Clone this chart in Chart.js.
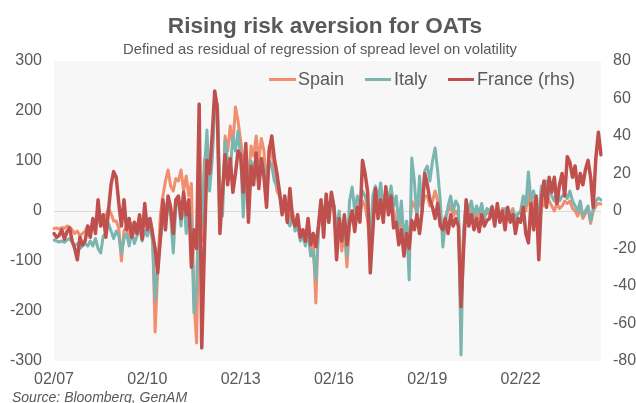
<!DOCTYPE html>
<html><head><meta charset="utf-8">
<script src="https://cdn.jsdelivr.net/npm/chart.js@4/dist/chart.umd.min.js"></script>
<style>
html,body{margin:0;padding:0;background:#fff;}
#wrap{position:relative;width:636px;height:403px;overflow:hidden;font-family:"Liberation Sans",Arial,sans-serif;color:#595959;}
canvas{position:absolute;left:0;top:0;}
.t{position:absolute;white-space:nowrap;line-height:1;}
.lg{position:absolute;height:3px;top:78px;}
</style></head><body>
<div id="wrap">
<canvas id="c" width="636" height="403"></canvas>
<div class="t" style="left:25px;width:600px;text-align:center;top:15px;font-size:22.6px;font-weight:bold;">Rising risk aversion for OATs</div>
<div class="t" style="left:20px;width:600px;text-align:center;top:42px;font-size:14.8px;">Defined as residual of regression of spread level on volatility</div>
<div class="lg" style="left:269px;width:27px;background:#F28E6E;"></div>
<div class="t" style="left:298px;top:70px;font-size:18px;">Spain</div>
<div class="lg" style="left:365px;width:26px;background:#7AB5B0;"></div>
<div class="t" style="left:394px;top:70px;font-size:18px;">Italy</div>
<div class="lg" style="left:448px;width:26px;background:#C0504D;"></div>
<div class="t" style="left:477px;top:70px;font-size:18px;">France (rhs)</div>
<div class="t" style="left:12px;top:390px;font-size:14px;font-style:italic;">Source: Bloomberg, GenAM</div>
</div>
<script>
// Monthly observations, Feb 2007 .. Sep 2024
const startYear = 2007, startMonth = 2;
const tickLabels = ['02/07','02/10','02/13','02/16','02/19','02/22'];

const spain = [
-35,-34,-36,-33,-35,-30,-32,-38,-45,-40,-50,-45,
-40,-30,-35,-25,-30,-20,-15,-25,-10,5,-5,-20,
-20,-35,-100,-40,-30,-50,-25,-45,-30,-15,-40,-20,
-30,-15,-40,-242,-120,-10,30,60,82,50,40,65,
60,82,40,70,30,55,-180,-264,20,-60,100,120,
60,120,230,200,-30,20,150,120,170,130,208,180,
140,100,120,60,130,110,150,100,145,120,40,130,
120,80,40,30,10,20,-20,-10,0,-30,-20,-50,
-40,-60,-30,-80,-60,-184,-30,10,-20,20,-10,30,
0,-60,-20,-80,-40,-112,-30,0,-20,10,-10,20,
10,-20,-80,-10,20,10,30,0,20,10,30,0,
-20,-40,-10,-50,-30,-60,20,10,0,20,10,30,
30,10,20,40,20,-20,-30,-10,0,10,-10,0,
-10,-170,-40,10,-10,0,-20,-5,-15,0,-10,-5,
-5,5,-10,0,-15,5,0,-10,-5,5,-15,-5,
-5,10,0,40,-10,20,0,-20,30,10,40,20,
10,0,15,5,10,20,15,20,5,0,-10,5,
-15,-5,5,-25,0,10,15,14
];

const italy = [
-58,-60,-62,-60,-63,-58,-55,-62,-70,-65,-75,-70,
-65,-70,-60,-70,-55,-75,-84,-50,-45,-25,-40,-55,
-40,-50,-85,-55,-45,-70,-40,-65,-50,-35,-60,-40,
-50,-30,-60,-178,-110,-60,-20,10,20,-10,-84,10,
20,-30,30,-45,10,-20,-204,-150,40,-30,80,162,
40,100,200,214,40,-10,140,100,80,150,120,160,
110,-12,90,50,100,80,110,70,100,90,20,100,
90,60,50,40,0,30,-20,-30,-10,-40,-30,-60,
-50,-70,-40,-90,-80,-138,-40,20,-10,25,-20,35,
10,-40,0,-60,-20,-90,20,48,0,30,10,40,
30,10,-60,30,50,20,56,10,40,20,50,10,
30,-30,20,-60,-20,-138,106,60,-20,70,0,80,
90,60,100,126,80,20,-72,-20,10,30,0,20,
10,-288,-40,20,0,20,-10,10,-5,15,-15,5,
0,10,-10,5,-15,0,5,-5,-10,0,-18,-5,
0,30,10,78,20,40,10,-10,50,30,60,40,
30,20,40,20,30,35,25,40,20,10,0,20,
-10,0,10,-20,5,20,26,22
];

const franceRhs = [
-12,-14,-13,-10,-15,-11,-9,-16,-20,-26,-14,-18,
-16,-8,-14,-4,-12,6,-8,-2,-14,0,14,21,
18,4,-8,6,-10,-4,-14,-6,-12,-2,-15,4,
-10,-4,-12,-20,-33,-15,6,-10,8,2,-12,6,
8,-4,10,-2,6,-30,-10,-20,57,-73,-20,27,
20,40,64,55,-12,10,30,14,28,10,20,32,
30,10,36,-6,24,14,31,12,28,18,2,32,
40,28,20,10,-2,8,-6,12,-4,-8,-2,-14,
-10,-16,-4,-18,-12,-19,-8,6,-14,9,-6,10,
2,-26,-4,-16,-2,-18,-6,0,-11,2,-6,27,
20,10,-33,-10,12,-4,6,-6,13,-2,8,-9,
-6,-18,-10,-24,-12,-20,-5,-10,-2,-12,0,20,
14,6,2,-4,4,-8,-10,-4,-12,-2,-8,-4,
-8,-51,-20,6,-8,-2,-10,-4,-11,-2,-8,-5,
-4,2,-8,4,-6,0,-10,2,-6,-2,-12,-4,
-6,2,-12,-17,4,-10,8,-26,6,16,2,18,
10,18,4,14,20,8,29,26,18,24,12,20,
14,22,27,18,2,28,42,30
];

const months = [];
for (let i = 0; i < spain.length; i++) {
  const m0 = (startMonth - 1) + i;
  const mm = (m0 % 12) + 1;
  const yy = (startYear + Math.floor(m0 / 12)) % 100;
  months.push(String(mm).padStart(2,'0') + '/' + String(yy).padStart(2,'0'));
}

const bgPlugin = {
  id: 'plotBg',
  beforeDraw(chart) {
    const {ctx, chartArea: a} = chart;
    ctx.save();
    ctx.fillStyle = '#f7f7f7';
    ctx.fillRect(a.left, a.top, a.right - a.left, a.bottom - a.top);
    ctx.restore();
  }
};

const tickFont = {family: '"Liberation Sans", Arial, sans-serif', size: 16};
const lineStyle = {pointRadius: 0, borderJoinStyle: 'round', borderCapStyle: 'round', tension: 0};

new Chart(document.getElementById('c'), {
  type: 'line',
  data: {
    labels: months,
    datasets: [
      Object.assign({label: 'Spain', data: spain, yAxisID: 'y', borderColor: '#F28E6E', borderWidth: 3, order: 2}, lineStyle),
      Object.assign({label: 'Italy', data: italy, yAxisID: 'y', borderColor: '#7AB5B0', borderWidth: 3, order: 1}, lineStyle),
      Object.assign({label: 'France (rhs)', data: franceRhs, yAxisID: 'y1', borderColor: '#C0504D', borderWidth: 3.5, order: 0}, lineStyle)
    ]
  },
  options: {
    responsive: false,
    animation: false,
    events: [],
    layout: {padding: {top: 61, left: 0, right: 0, bottom: 0}},
    plugins: {legend: {display: false}, tooltip: {enabled: false}, title: {display: false}},
    scales: {
      x: {
        type: 'category',
        afterFit(s) { s.height = 42; },
        grid: {display: false, drawTicks: false},
        border: {display: false},
        ticks: {
          autoSkip: false, maxRotation: 0, minRotation: 0, padding: 9,
          font: tickFont, color: '#595959',
          callback(v, i) { const l = months[i]; return tickLabels.includes(l) ? l : ''; }
        }
      },
      y: {
        position: 'left', min: -300, max: 300,
        afterFit(s) { s.width = 54; },
        grid: {drawTicks: false, lineWidth: 1, color: (c) => c.tick && c.tick.value === 0 ? '#d9d9d9' : 'rgba(0,0,0,0)'},
        border: {display: false},
        ticks: {stepSize: 100, padding: 12, font: tickFont, color: '#595959'}
      },
      y1: {
        position: 'right', min: -80, max: 80,
        afterFit(s) { s.width = 35; },
        grid: {display: false, drawTicks: false},
        border: {display: false},
        ticks: {stepSize: 20, padding: 12, font: tickFont, color: '#595959'}
      }
    }
  },
  plugins: [bgPlugin]
});
</script>
</body></html>
